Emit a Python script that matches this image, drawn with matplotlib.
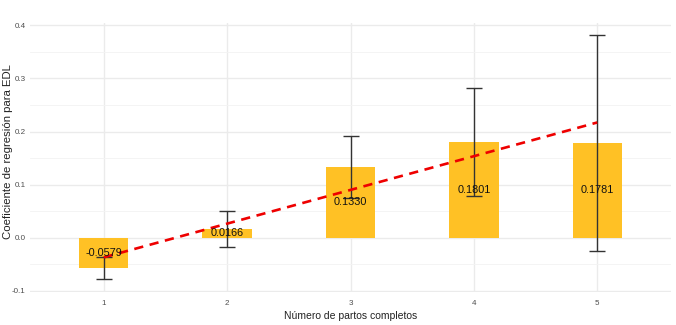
import numpy as np
import matplotlib
matplotlib.use("Agg")
import matplotlib.pyplot as plt

plt.rcParams['font.family'] = ['Liberation Sans', 'DejaVu Sans']

# datos
partos = [1, 2, 3, 4, 5]
coef = [-0.0579, 0.0166, 0.1330, 0.1801, 0.1781]
ic_inf = [-0.0784, -0.0180, 0.0753, 0.0785, -0.0245]
ic_sup = [-0.0358, 0.0508, 0.1910, 0.2820, 0.3820]
etiquetas = ["-0.0579", "0.0166", "0.1330", "0.1801", "0.1781"]

x = np.array(partos)
y = np.array(coef)

fig = plt.figure(figsize=(6.76, 3.25), dpi=100)
ax = fig.add_axes([0.044, 0.103, 0.949, 0.827])

ax.bar(x, y, width=0.4, color="#FFC125", zorder=2)

yerr = [y - np.array(ic_inf), np.array(ic_sup) - y]
ax.errorbar(x, y, yerr=yerr, fmt="none", ecolor="#333333", elinewidth=1.0,
            capsize=5.5, capthick=1.0, zorder=3)

# recta de tendencia (ajuste lineal)
m, b = np.polyfit(x, y, 1)
ax.plot(x, m * x + b, color="#EE0000", linestyle=(0, (3.5, 2.5)), linewidth=1.9, zorder=4)

for xi, yi, lab in zip(x, y, etiquetas):
    ax.text(xi, yi / 2, lab, ha="center", va="center", fontsize=7.8, color="#111111", zorder=5)

ax.set_xlim(0.4, 5.6)
ax.set_ylim(-0.1015, 0.405)
ax.set_xticks(partos)
ax.set_yticks([-0.1, 0.0, 0.1, 0.2, 0.3, 0.4])
ax.set_yticks(np.arange(-0.05, 0.4, 0.1), minor=True)
ax.set_yticklabels(["-0.1", "0.0", "0.1", "0.2", "0.3", "0.4"])
ax.tick_params(axis="both", which="both", length=0, labelsize=5.8, labelcolor="#4D4D4D")
ax.tick_params(axis="x", pad=6)
ax.tick_params(axis="y", pad=3)

ax.grid(which="major", color="#EBEBEB", linewidth=1.0, zorder=0)
ax.grid(which="minor", axis="y", color="#F3F3F3", linewidth=0.6, zorder=0)
ax.set_axisbelow(True)
for s in ax.spines.values():
    s.set_visible(False)

ax.set_xlabel("Número de partos completos", fontsize=7.5, color="#222222", labelpad=3)
fig.text(8 / 676, 1 - 152 / 325, "Coeficiente de regresión para EDL", rotation=90,
         ha="center", va="center", fontsize=8.2, color="#222222")

fig.savefig("out.png", dpi=100)
